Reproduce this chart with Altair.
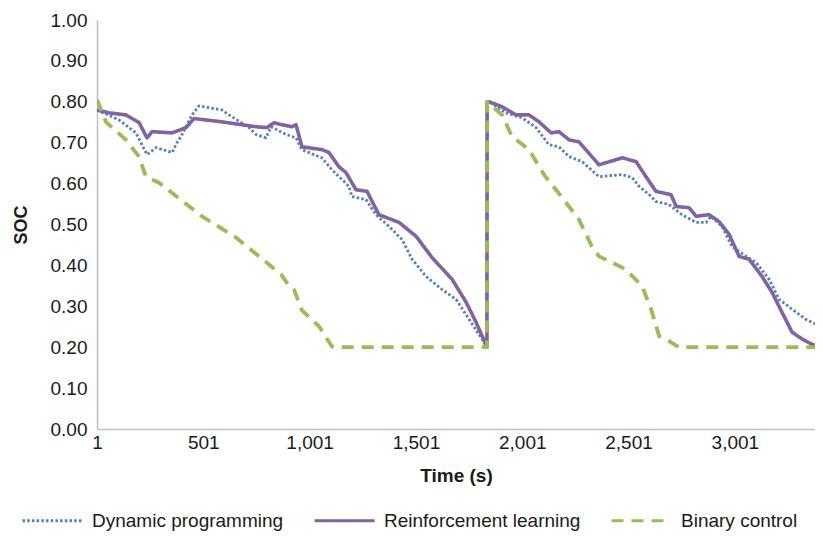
import altair as alt
import pandas as pd

series_names = ["Dynamic programming", "Reinforcement learning", "Binary control"]
series_colors = ["#4F81BD", "#8064A2", "#9BBB59"]

dp_t = [1, 104, 184, 236, 279, 354, 377, 396, 448, 481, 589, 622, 716, 749, 796, 820, 890, 937,
        965, 1059, 1106, 1186, 1200, 1266, 1313, 1375, 1436, 1483, 1549, 1624, 1690, 1751, 1812,
        1834, 1836, 1845, 1925, 2000, 2066, 2127, 2174, 2221, 2282, 2362, 2471, 2518, 2551, 2598,
        2630, 2691, 2752, 2819, 2866, 2889, 2941, 2988, 3054, 3101, 3162, 3209, 3270, 3336, 3411]
dp_soc = [0.78, 0.756, 0.724, 0.671, 0.688, 0.676, 0.700, 0.715, 0.768, 0.790, 0.780, 0.768,
          0.737, 0.720, 0.712, 0.739, 0.720, 0.712, 0.683, 0.663, 0.634, 0.593, 0.568, 0.561,
          0.524, 0.495, 0.463, 0.415, 0.373, 0.341, 0.317, 0.268, 0.220, 0.20, 0.80, 0.80,
          0.773, 0.761, 0.737, 0.695, 0.690, 0.666, 0.654, 0.617, 0.622, 0.615, 0.593, 0.573,
          0.556, 0.549, 0.524, 0.505, 0.505, 0.520, 0.495, 0.446, 0.422, 0.407, 0.366, 0.317,
          0.293, 0.268, 0.249]

rl_t = [1, 57, 137, 199, 236, 260, 354, 420, 457, 589, 749, 801, 834, 871, 918, 937, 965, 1059,
        1092, 1139, 1172, 1219, 1271, 1327, 1422, 1502, 1577, 1671, 1737, 1784, 1831, 1835, 1836,
        1845, 1906, 1972, 2033, 2080, 2137, 2174, 2221, 2268, 2362, 2471, 2536, 2583, 2630, 2701,
        2725, 2786, 2819, 2880, 2927, 2974, 3021, 3068, 3129, 3176, 3223, 3270, 3317, 3364, 3411]
rl_soc = [0.78, 0.773, 0.768, 0.749, 0.712, 0.727, 0.724, 0.737, 0.759, 0.751, 0.739, 0.737,
          0.749, 0.744, 0.739, 0.744, 0.690, 0.683, 0.676, 0.641, 0.627, 0.585, 0.581, 0.524,
          0.505, 0.471, 0.419, 0.366, 0.310, 0.261, 0.205, 0.20, 0.80, 0.80, 0.788, 0.768,
          0.768, 0.751, 0.724, 0.727, 0.707, 0.702, 0.646, 0.663, 0.654, 0.617, 0.581, 0.573,
          0.544, 0.541, 0.520, 0.524, 0.507, 0.476, 0.422, 0.415, 0.373, 0.334, 0.285, 0.237,
          0.220, 0.207, 0.20]

bc_t = [1, 43, 137, 199, 231, 293, 495, 655, 867, 904, 928, 965, 1045, 1106, 1116, 1835, 1836,
        1906, 1953, 2033, 2089, 2113, 2160, 2221, 2268, 2329, 2362, 2423, 2489, 2565, 2607, 2645,
        2692, 2738, 3411]
bc_soc = [0.805, 0.751, 0.707, 0.666, 0.617, 0.602, 0.520, 0.468, 0.378, 0.350, 0.340, 0.290,
          0.251, 0.202, 0.20, 0.20, 0.80, 0.768, 0.715, 0.683, 0.634, 0.615, 0.585, 0.544,
          0.512, 0.446, 0.422, 0.407, 0.390, 0.349, 0.293, 0.227, 0.215, 0.20, 0.20]

x_ticks = [1, 501, 1001, 1501, 2001, 2501, 3001]
y_ticks = [0.0, 0.1, 0.2, 0.3, 0.4, 0.5, 0.6, 0.7, 0.8, 0.9, 1.0]

rows = []
for name, ts, vs in zip(series_names, [dp_t, rl_t, bc_t], [dp_soc, rl_soc, bc_soc]):
    for i, (t, v) in enumerate(zip(ts, vs)):
        rows.append({"series": name, "t": t, "soc": v, "idx": i})
df = pd.DataFrame(rows)

FONT = "Liberation Sans"
TXT = "#1a1a1a"

color_scale = alt.Scale(domain=series_names, range=series_colors)
dash_scale = alt.Scale(domain=series_names, range=[[2.5, 2.2], [1, 0], [12, 8]])

legend = alt.Legend(
    orient="none", legendX=-76, legendY=469, direction="horizontal", title=None,
    symbolType="stroke", symbolSize=3600, symbolStrokeWidth=3,
    labelFontSize=19, labelFont=FONT, labelColor=TXT, labelOffset=8,
    columnPadding=24, labelLimit=0,
)

x_axis = alt.Axis(
    values=x_ticks, format=",d", grid=False, ticks=False, domainColor="#BFBFBF",
    domainWidth=1.5, labelFontSize=19, labelFont=FONT, labelColor=TXT, labelPadding=4,
    labelFlush=False, labelOverlap=False, titleFontSize=19, titleFont=FONT,
    titleFontWeight="bold", titleColor=TXT, titlePadding=14,
)
y_axis = alt.Axis(
    values=y_ticks, format=".2f", grid=False, ticks=False, domainColor="#BFBFBF",
    domainWidth=1.5, labelFontSize=19, labelFont=FONT, labelColor=TXT, labelPadding=10,
    labelOverlap=False, titleFontSize=18, titleFont=FONT, titleFontWeight="bold",
    titleColor=TXT, titlePadding=20,
)


def layer(name, sw):
    return (
        alt.Chart(df)
        .transform_filter(alt.datum.series == name)
        .mark_line(strokeWidth=sw, clip=True, strokeJoin="round")
        .encode(
            x=alt.X("t:Q", scale=alt.Scale(domain=[1, 3378], nice=False, zero=False),
                    axis=x_axis, title="Time (s)"),
            y=alt.Y("soc:Q", scale=alt.Scale(domain=[0, 1], nice=False), axis=y_axis,
                    title="SOC"),
            color=alt.Color("series:N", scale=color_scale, legend=legend),
            strokeDash=alt.StrokeDash("series:N", scale=dash_scale, legend=legend),
            order=alt.Order("idx:Q"),
        )
    )


chart = (
    alt.layer(layer(series_names[0], 2.8), layer(series_names[1], 3.6), layer(series_names[2], 3.8))
    .properties(
        width=718, height=409,
        autosize=alt.AutoSizeParams(type="none"),
        padding={"left": 89, "top": 12, "right": 0, "bottom": 107},
    )
    .configure_view(stroke=None)
)

chart.save("out.html", embed_options={"renderer": "svg", "actions": False})
